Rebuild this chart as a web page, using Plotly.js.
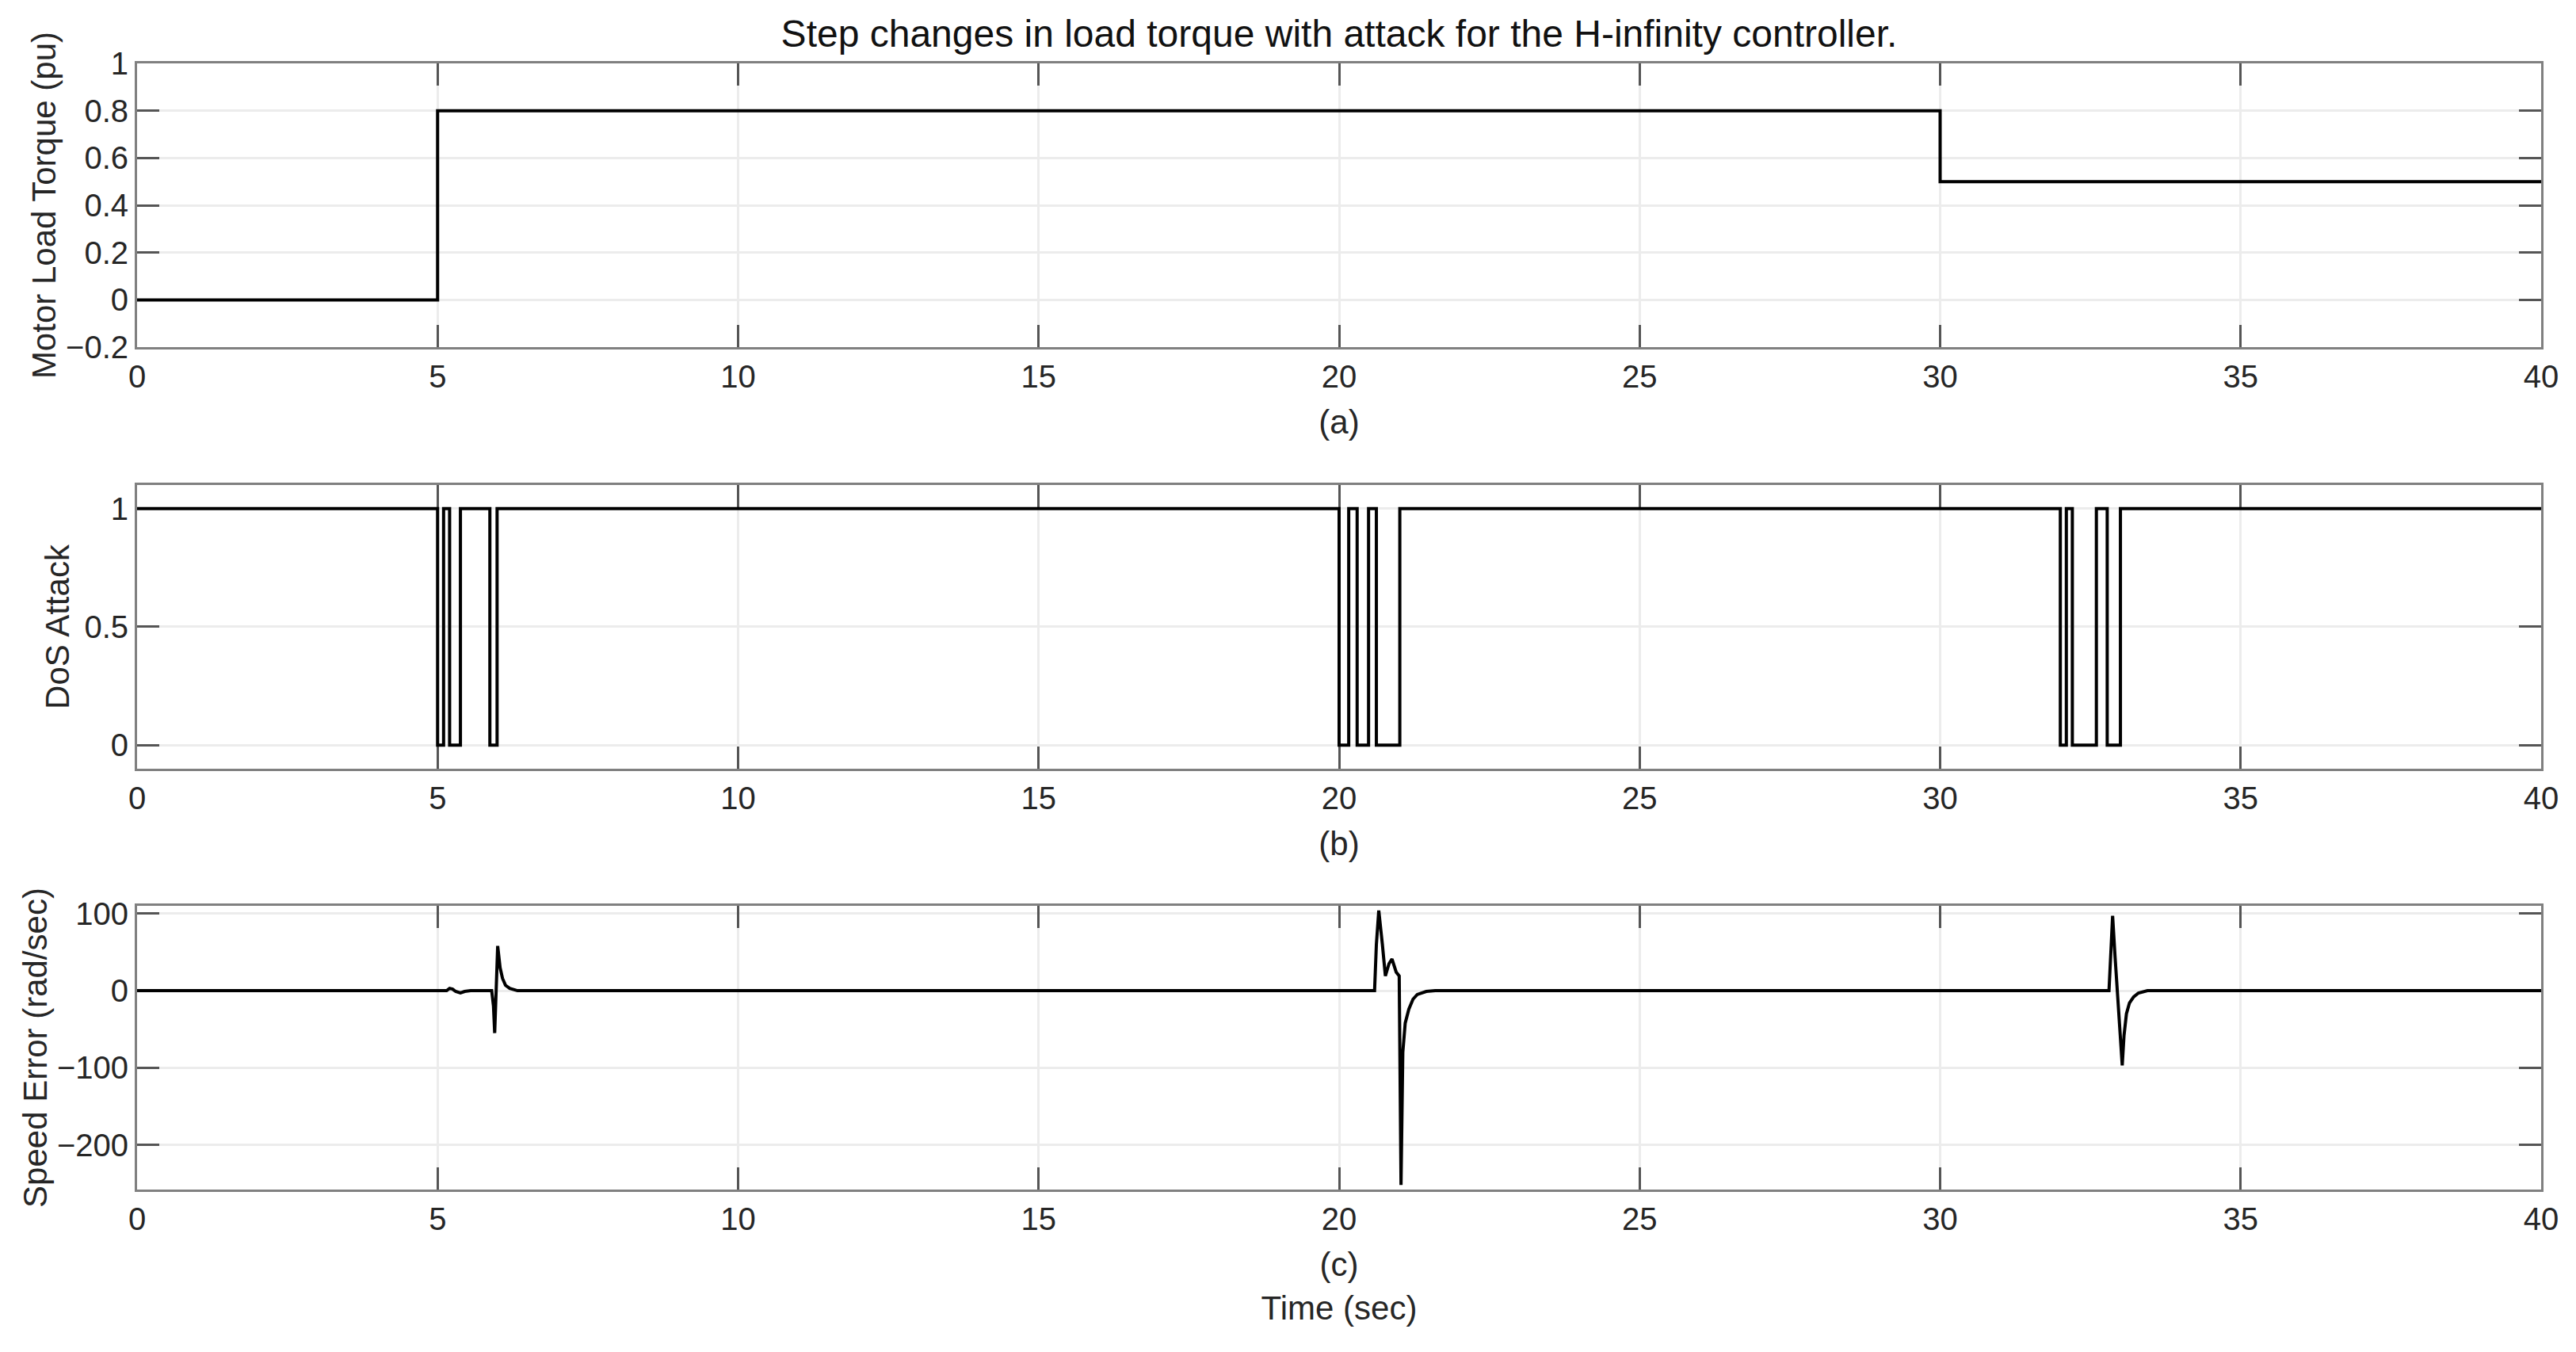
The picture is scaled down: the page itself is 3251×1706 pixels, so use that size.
<!DOCTYPE html>
<html><head><meta charset="utf-8">
<script src="https://cdn.plot.ly/plotly-3.0.1.min.js"></script>
<style>html,body{margin:0;padding:0;background:#fff}</style>
</head><body><div id="chart" style="width:3251px;height:1706px"></div>
<script>
// ---- data ----
const torqueTime = [0, 5, 5, 30, 30, 40];
const torqueValue = [0, 0, 0.8, 0.8, 0.5, 0.5];

const dosTime = [0, 5.0, 5.0, 5.10, 5.10, 5.20, 5.20, 5.38, 5.38, 5.87, 5.87, 5.99, 5.99,
  20.0, 20.0, 20.16, 20.16, 20.30, 20.30, 20.49, 20.49, 20.62, 20.62, 21.01, 21.01,
  32.0, 32.0, 32.10, 32.10, 32.20, 32.20, 32.60, 32.60, 32.78, 32.78, 33.0, 33.0, 40];
const dosValue = [1, 1, 0, 0, 1, 1, 0, 0, 1, 1, 0, 0, 1,
  1, 0, 0, 1, 1, 0, 0, 1, 1, 0, 0, 1,
  1, 0, 0, 1, 1, 0, 0, 1, 1, 0, 0, 1, 1];

const errTime = [0, 5.15, 5.2, 5.25, 5.3, 5.38, 5.45, 5.55, 5.9, 5.93, 5.95, 5.98, 6.0, 6.04, 6.08, 6.13, 6.2, 6.33,
  20.59, 20.62, 20.66, 20.72, 20.77, 20.83, 20.88, 20.95, 21.0, 21.03, 21.06, 21.1, 21.16, 21.23, 21.3, 21.45, 21.6,
  32.81, 32.84, 32.87, 32.91, 32.96, 33.03, 33.06, 33.1, 33.15, 33.22, 33.3, 33.45, 40];
const errValue = [0, 0, 3, 2, -1, -3, -1, 0, 0, -20, -55, 10, 58, 30, 16, 7, 3, 0,
  0, 60, 104, 60, 19, 35, 41, 24, 19, -252, -80, -42, -24, -11, -5, -1, 0,
  0, 40, 97, 45, -10, -97, -58, -30, -16, -8, -3, 0, 0];

const xTicks = [0, 5, 10, 15, 20, 25, 30, 35, 40];
const torqueTicks = [-0.2, 0, 0.2, 0.4, 0.6, 0.8, 1];
const dosTicks = [0, 0.5, 1];
const errTicks = [-200, -100, 0, 100];

const titleText = 'Step changes in load torque with attack for the H-infinity controller.';
const panelLabels = ['(a)', '(b)', '(c)<br>Time (sec)'];
const yLabels = ['Motor Load Torque (pu)', 'DoS Attack', 'Speed Error (rad/sec)'];

// ---- styling ----
const FONT = 'Liberation Sans, Arial, Helvetica, sans-serif';
const lineStyle = {color: '#000000', width: 4};

function xAx(title, anchor) {
  return {
    range: [0, 40], tickvals: xTicks, anchor: anchor,
    showline: true, linecolor: '#808080', linewidth: 3, mirror: 'ticks',
    ticks: 'inside', ticklen: 28, tickwidth: 3, tickcolor: '#555555',
    showgrid: true, gridcolor: '#ececec', gridwidth: 3, zeroline: false,
    layer: 'below traces',
    tickfont: {family: FONT, size: 40, color: '#262626'},
    title: {text: title, font: {family: FONT, size: 42, color: '#262626'}, standoff: 22}
  };
}
function yAx(title, range, ticks, domain, anchor, standoff) {
  return {
    range: range, tickvals: ticks, domain: domain, anchor: anchor,
    showline: true, linecolor: '#808080', linewidth: 3, mirror: 'ticks',
    ticks: 'inside', ticklen: 28, tickwidth: 3, tickcolor: '#555555',
    showgrid: true, gridcolor: '#ececec', gridwidth: 3, zeroline: false,
    layer: 'below traces',
    tickfont: {family: FONT, size: 40, color: '#262626'},
    title: {text: title, font: {family: FONT, size: 42, color: '#262626'}, standoff: standoff}
  };
}

const traces = [
  {x: torqueTime, y: torqueValue, xaxis: 'x', yaxis: 'y', mode: 'lines', line: lineStyle, hoverinfo: 'skip'},
  {x: dosTime, y: dosValue, xaxis: 'x2', yaxis: 'y2', mode: 'lines', line: lineStyle, hoverinfo: 'skip'},
  {x: errTime, y: errValue, xaxis: 'x3', yaxis: 'y3', mode: 'lines', line: lineStyle, hoverinfo: 'skip'}
];

const layout = {
  width: 3251, height: 1706,
  paper_bgcolor: '#ffffff', plot_bgcolor: '#ffffff',
  showlegend: false,
  margin: {l: 173, r: 44, t: 80, b: 205},
  title: {text: titleText, font: {family: FONT, size: 48, color: '#111111'},
          x: 0.5, xref: 'paper', xanchor: 'center', y: 1 - 42 / 1706, yref: 'container', yanchor: 'middle'},
  xaxis: xAx(panelLabels[0], 'y'),
  xaxis2: xAx(panelLabels[1], 'y2'),
  xaxis3: xAx(panelLabels[2], 'y3'),
  yaxis: yAx(yLabels[0], [-0.2, 1], torqueTicks, [0.748, 1], 'x', 0),
  yaxis2: yAx(yLabels[1], [-0.1, 1.1], dosTicks, [0.3737, 0.6256], 'x2', 6),
  yaxis3: yAx(yLabels[2], [-258, 110], errTicks, [0, 0.2519], 'x3', 0)
};

Plotly.newPlot('chart', traces, layout, {staticPlot: true, displayModeBar: false});
</script></body></html>
